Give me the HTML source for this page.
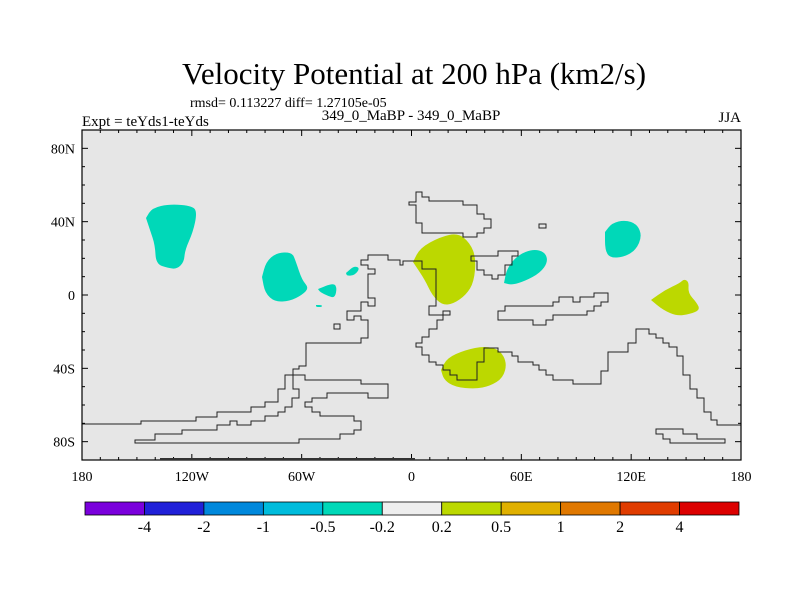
<!DOCTYPE html>
<html><head><meta charset="utf-8">
<style>
body{margin:0;background:#fff;}
svg text{font-family:"Liberation Serif",serif;fill:#000;}
</style></head>
<body>
<svg id="chart" width="800" height="600" viewBox="0 0 800 600" xmlns="http://www.w3.org/2000/svg">
<rect width="800" height="600" fill="#fff"/>
<text x="414" y="84" font-size="31" text-anchor="middle">Velocity Potential at 200 hPa (km2/s)</text>
<text x="190" y="107" font-size="14">rmsd= 0.113227 diff= 1.27105e-05</text>
<text x="82" y="126" font-size="15">Expt = teYds1-teYds</text>
<text x="411" y="120" font-size="15" text-anchor="middle">349_0_MaBP - 349_0_MaBP</text>
<text x="741" y="122" font-size="15" text-anchor="end">JJA</text>
<rect x="82" y="130" width="659" height="330" fill="#e6e6e6"/>
<g id="blobs"></g>
<g id="coast" fill="none" stroke="#222" stroke-width="1"></g>
<g id="axes"></g>
<rect x="82" y="130" width="659" height="330" fill="none" stroke="#000" stroke-width="1.2"/>
<line x1="160" y1="459" x2="415" y2="459" stroke="#333" stroke-width="2"/>
<g id="cbar"></g>
</svg>
<script>
const cbLevels = ["-4","-2","-1","-0.5","-0.2","0.2","0.5","1","2","4"];
const cbColors = ["#7a00dc","#2020d8","#0088dc","#00bcdc","#00d8b8","#eeeeee","#bcd800","#e0b000","#e07800","#e03c00","#dc0000"];
const lonTicks = [-180,-120,-60,0,60,120,180];
const lonLabels = ["180","120W","60W","0","60E","120E","180"];
const latTicks = [80,40,0,-40,-80];
const latLabels = ["80N","40N","0","40S","80S"];

const X0=82,X1=741,Y0=130,Y1=460;
function xs(lon){return X0+(lon+180)/360*(X1-X0);}
function ys(lat){return Y0+(90-lat)/180*(Y1-Y0);}
const NS="http://www.w3.org/2000/svg";
function mk(tag,attrs,parent){const e=document.createElementNS(NS,tag);for(const k in attrs)e.setAttribute(k,attrs[k]);parent.appendChild(e);return e;}

const blobs=[
 {n:"neg-anomaly-pacific-north",c:4,p:[[146,218],[152,208],[170,204],[193,206],[197,213],[193,232],[185,250],[184,262],[177,269],[168,268],[156,264],[155,245],[150,230]]},
 {n:"neg-anomaly-east-pacific",c:4,p:[[262,277],[266,262],[276,253],[292,252],[296,262],[302,280],[309,288],[302,295],[290,301],[275,302],[265,293]]},
 {n:"neg-anomaly-small-1",c:4,p:[[318,289],[333,283],[337,287],[335,298],[328,296],[320,292]]},
 {n:"neg-anomaly-small-2",c:4,p:[[346,273],[354,266],[360,268],[355,275],[347,276]]},
 {n:"neg-anomaly-tiny",c:4,p:[[316,305],[322,305],[322,307],[316,307]]},
 {n:"pos-anomaly-africa",c:6,p:[[413,262],[420,248],[440,237],[458,233],[470,243],[476,258],[474,282],[466,295],[453,304],[442,305],[432,295],[425,280]]},
 {n:"neg-anomaly-arabia",c:4,p:[[504,283],[507,268],[518,255],[533,249],[545,252],[548,262],[540,273],[525,281],[512,285]]},
 {n:"neg-anomaly-east-asia",c:4,p:[[605,232],[612,223],[625,220],[637,224],[642,236],[636,250],[624,257],[610,258],[605,250]]},
 {n:"pos-anomaly-west-pacific",c:6,p:[[651,300],[665,290],[680,283],[684,279],[689,282],[688,293],[697,303],[700,310],[690,314],[677,316],[663,310]]},
 {n:"pos-anomaly-south-atlantic",c:6,p:[[441,370],[447,358],[465,350],[485,346],[500,350],[507,363],[503,378],[490,386],[475,389],[455,387],[444,380]]}
];
const bg=document.getElementById('blobs');
blobs.forEach(b=>{
 const pts=b.p;let d="M"+pts[0].join(",");
 for(let i=0;i<pts.length;i++){const p0=pts[i],p1=pts[(i+1)%pts.length];const m=[(p0[0]+p1[0])/2,(p0[1]+p1[1])/2];d+=" Q"+p0.join(",")+" "+m.join(",");}
 const el=mk('path',{d:d+"Z",fill:cbColors[b.c]},bg);
 
 
});

const coasts=[
 {n:"coast-main",closed:false,p:[[82,424],[141,424],[141,421],[196,421],[196,417],[217,417],[217,412],[251,412],[251,407],[265,407],[265,402],[278,402],[278,389],[285,389],[285,375],[293,375],[293,369],[299,369],[299,366],[306,366],[306,343],[361,343],[361,338],[368,338],[368,320],[361,320],[361,316],[354,316],[354,320],[347,320],[347,311],[361,311],[361,302],[368,302],[368,306],[375,306],[375,298],[368,298],[368,274],[375,274],[375,269],[368,269],[368,265],[361,265],[361,260],[368,260],[368,255],[388,255],[388,260],[400,260],[400,265],[403,265],[403,261],[422,261],[422,269],[436,269],[436,306],[429,306],[429,315],[443,315],[443,311],[450,311],[450,315],[443,315],[443,320],[437,320],[437,329],[429,329],[429,337],[422,337],[422,343],[416,343],[416,347],[422,347],[422,355],[429,355],[429,362],[436,362],[436,365],[443,365],[443,370],[450,370],[450,375],[457,375],[457,380],[477,380],[477,362],[484,362],[484,348],[498,348],[498,352],[512,352],[512,356],[518,356],[518,362],[533,362],[533,365],[539,365],[539,370],[546,370],[546,375],[553,375],[553,380],[573,380],[573,384],[601,384],[601,371],[608,371],[608,352],[628,352],[628,343],[636,343],[636,329],[649,329],[649,334],[656,334],[656,338],[663,338],[663,343],[669,343],[669,347],[677,347],[677,356],[683,356],[683,375],[690,375],[690,389],[697,389],[697,398],[704,398],[704,412],[711,412],[711,420],[717,420],[717,425],[741,425]]},
 {n:"coast-south-loop",closed:true,p:[[135,440],[155,440],[155,434],[182,434],[182,430],[217,430],[217,425],[230,425],[230,421],[237,421],[237,425],[251,425],[251,421],[265,421],[265,416],[278,416],[278,412],[285,412],[285,407],[292,407],[292,398],[299,398],[299,389],[293,389],[293,375],[305,375],[305,380],[361,380],[361,384],[388,384],[388,398],[368,398],[368,393],[327,393],[327,398],[312,398],[312,402],[305,402],[305,407],[312,407],[312,412],[320,412],[320,416],[354,416],[354,421],[361,421],[361,430],[354,430],[354,434],[340,434],[340,439],[299,439],[299,443],[135,443]]},
 {n:"coast-north-island",closed:true,p:[[409,202],[416,202],[416,192],[422,192],[422,197],[429,197],[429,201],[463,201],[463,205],[477,205],[477,214],[484,214],[484,219],[491,219],[491,228],[484,228],[484,233],[477,233],[477,237],[463,237],[463,233],[422,233],[422,223],[416,223],[416,205],[409,205]]},
 {n:"coast-small-square",closed:true,p:[[539,224],[546,224],[546,228],[539,228]]},
 {n:"coast-small-square-2",closed:true,p:[[334,324],[340,324],[340,329],[334,329]]},
 {n:"coast-middle-east",closed:true,p:[[471,256],[498,256],[498,251],[518,251],[518,256],[512,256],[512,265],[505,265],[505,275],[498,275],[498,279],[492,279],[492,275],[484,275],[484,270],[477,270],[477,261],[471,261]]},
 {n:"coast-east-island",closed:true,p:[[498,311],[505,311],[505,306],[553,306],[553,302],[559,302],[559,297],[573,297],[573,302],[580,302],[580,297],[594,297],[594,293],[608,293],[608,302],[601,302],[601,306],[594,306],[594,311],[587,311],[587,315],[553,315],[553,320],[546,320],[546,325],[533,325],[533,320],[498,320]]},
 {n:"coast-southeast-loop",closed:true,p:[[656,429],[683,429],[683,434],[697,434],[697,439],[725,439],[725,443],[670,443],[670,439],[663,439],[663,434],[656,434]]}
];
const cg=document.getElementById('coast');
coasts.forEach(c=>{
 const el=mk(c.closed?'polygon':'polyline',{points:c.p.map(q=>q.join(",")).join(" ")},cg);
 
 
});

const ax=document.getElementById('axes');
for(let lon=-180;lon<=180;lon+=10){
 const x=xs(lon);const L=(lon%60===0)?6:3;
 mk('line',{x1:x,y1:Y0,x2:x,y2:Y0+L,stroke:"#000"},ax);
 mk('line',{x1:x,y1:Y1,x2:x,y2:Y1-L,stroke:"#000"},ax);
}
for(let lat=-90;lat<=90;lat+=10){
 const y=ys(lat);const L=(lat%40===0)?6:3;
 mk('line',{x1:X0,y1:y,x2:X0+L,y2:y,stroke:"#000"},ax);
 mk('line',{x1:X1,y1:y,x2:X1-L,y2:y,stroke:"#000"},ax);
}
lonTicks.forEach((v,i)=>{
 const t=mk('text',{x:xs(v),y:481,"font-size":14,"text-anchor":"middle"},ax);t.textContent=lonLabels[i];
 
 
});
latTicks.forEach((v,i)=>{
 const t=mk('text',{x:75,y:ys(v)+5,"font-size":14,"text-anchor":"end"},ax);t.textContent=latLabels[i];
 
 
});

const cb=document.getElementById('cbar');
const cbx0=85,cbx1=739,cby=502,cbh=13,bw=(cbx1-cbx0)/cbColors.length;
cbColors.forEach((c,i)=>{
 const r=mk('rect',{x:cbx0+i*bw,y:cby,width:bw,height:cbh,fill:c,stroke:"#000","stroke-width":0.8},cb);
 
 
});
cbLevels.forEach((l,i)=>{
 const t=mk('text',{x:cbx0+(i+1)*bw,y:532,"font-size":16,"text-anchor":"middle"},cb);t.textContent=l;
 
 
});
</script>
</body></html>
